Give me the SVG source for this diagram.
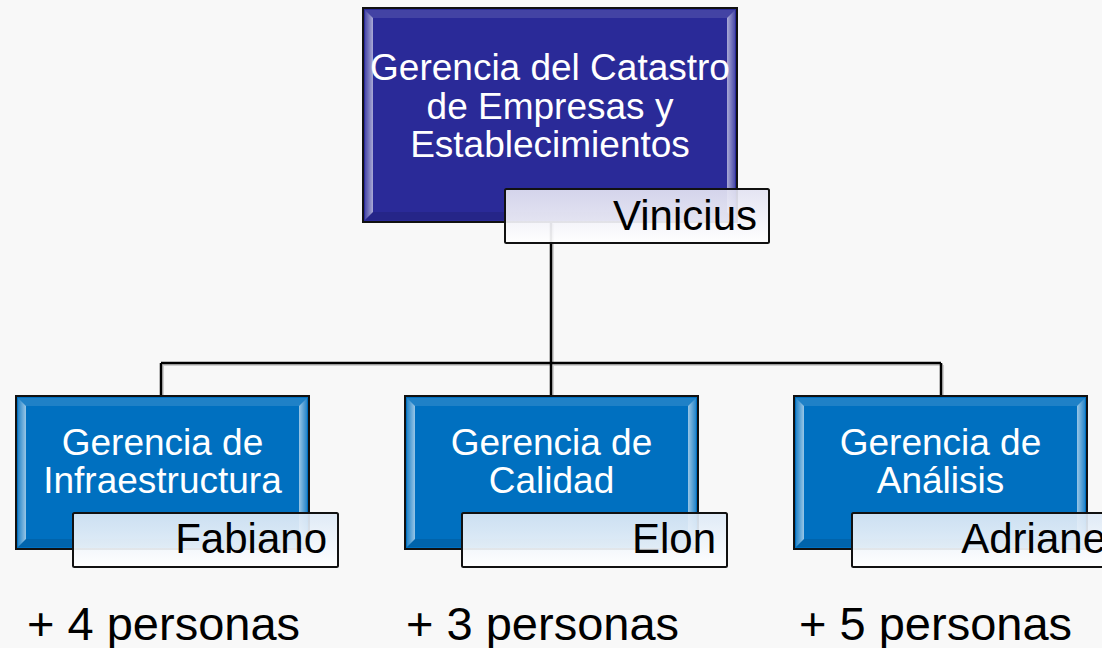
<svg xmlns="http://www.w3.org/2000/svg" width="1102" height="648" viewBox="0 0 1102 648">
<defs>
<linearGradient id="nameGradTop" x1="0" y1="0" x2="0" y2="1">
<stop offset="0" stop-color="#e2e2f2"/>
<stop offset="1" stop-color="#ffffff"/>
</linearGradient>
<linearGradient id="nameGrad" x1="0" y1="0" x2="0" y2="1">
<stop offset="0" stop-color="#dde9f6"/>
<stop offset="1" stop-color="#ffffff"/>
</linearGradient>
<linearGradient id="bevL" x1="0" y1="0" x2="1" y2="0">
<stop offset="0" stop-color="#ffffff" stop-opacity="0.15"/>
<stop offset="1" stop-color="#ffffff" stop-opacity="0.6"/>
</linearGradient>
<linearGradient id="bevR" x1="0" y1="0" x2="1" y2="0">
<stop offset="0" stop-color="#ffffff" stop-opacity="0.6"/>
<stop offset="1" stop-color="#ffffff" stop-opacity="0.15"/>
</linearGradient>
</defs>
<style>
.bg{fill:#f8f8f8}
.top{fill:#2a2a98;stroke:#111;stroke-width:2}
.child{fill:#0070c0;stroke:#111;stroke-width:2}
.bl{fill:url(#bevL)}
.br{fill:url(#bevR)}
.bt{fill:#ffffff;fill-opacity:0.12}
.bb{fill:#000000;fill-opacity:0.1}
.name{stroke:#111;stroke-width:2;fill-opacity:0.92}
.ttl{font-family:"Liberation Sans",Arial,sans-serif;fill:#ffffff;text-anchor:middle}
.nm{font-family:"Liberation Sans",Arial,sans-serif;font-size:42px;fill:#000;text-anchor:end}
.cnt{font-family:"Liberation Sans",Arial,sans-serif;font-size:47px;fill:#000}
.conn{fill:none;stroke:#000;stroke-width:2.5}
.shadow{fill:none;stroke:#cfcfcf;stroke-width:2}
</style>
<rect class="bg" x="0" y="0" width="1102" height="648"/>

<g id="connectors">
<path class="shadow" d="M553,224 V365 M163,365 H943 M163,365 V396 M553,365 V396 M943,365 V396"/>
<path class="conn" d="M551,222 V363 M161,363 H941 M161,363 V396 M551,363 V396 M941,363 V396"/>
</g>

<g id="node-top">
<rect class="top" x="363" y="8" width="374" height="214"/>
<polygon class="bt" points="365,10 735,10 727,18 373,18"/>
<polygon class="bl" points="365,10 373,18 373,212 365,220"/>
<polygon class="br" points="735,10 727,18 727,212 735,220"/>
<polygon class="bb" points="365,220 373,212 727,212 735,220"/>
<text class="ttl" font-size="37" x="550" y="80">Gerencia del Catastro</text>
<text class="ttl" font-size="37" x="550" y="118.5">de Empresas y</text>
<text class="ttl" font-size="37" x="550" y="157">Establecimientos</text>
</g>
<g id="name-top">
<rect class="name" x="505" y="189" width="264" height="54" rx="1.5" fill="url(#nameGradTop)"/>
<text class="nm" x="757" y="230">Vinicius</text>
</g>

<g id="node-infra">
<rect class="child" x="16" y="396" width="293" height="153"/>
<polygon class="bt" points="18,398 307,398 299,406 26,406"/>
<polygon class="bl" points="18,398 26,406 26,539 18,547"/>
<polygon class="br" points="307,398 299,406 299,539 307,547"/>
<polygon class="bb" points="18,547 26,539 299,539 307,547"/>
<text class="ttl" font-size="37" x="162.5" y="455">Gerencia de</text>
<text class="ttl" font-size="37" x="162.5" y="493">Infraestructura</text>
</g>
<g id="name-infra">
<rect class="name" x="73" y="513" width="265" height="54" rx="1.5" fill="url(#nameGrad)"/>
<text class="nm" x="327" y="553">Fabiano</text>
</g>

<g id="node-calidad">
<rect class="child" x="405" y="396" width="293" height="153"/>
<polygon class="bt" points="407,398 696,398 688,406 415,406"/>
<polygon class="bl" points="407,398 415,406 415,539 407,547"/>
<polygon class="br" points="696,398 688,406 688,539 696,547"/>
<polygon class="bb" points="407,547 415,539 688,539 696,547"/>
<text class="ttl" font-size="37" x="551.5" y="455">Gerencia de</text>
<text class="ttl" font-size="37" x="551.5" y="493">Calidad</text>
</g>
<g id="name-calidad">
<rect class="name" x="462" y="513" width="265" height="54" rx="1.5" fill="url(#nameGrad)"/>
<text class="nm" x="716" y="553">Elon</text>
</g>

<g id="node-analisis">
<rect class="child" x="794" y="396" width="293" height="153"/>
<polygon class="bt" points="796,398 1085,398 1077,406 804,406"/>
<polygon class="bl" points="796,398 804,406 804,539 796,547"/>
<polygon class="br" points="1085,398 1077,406 1077,539 1085,547"/>
<polygon class="bb" points="796,547 804,539 1077,539 1085,547"/>
<text class="ttl" font-size="37" x="940.5" y="455">Gerencia de</text>
<text class="ttl" font-size="37" x="940.5" y="493">Análisis</text>
</g>
<g id="name-analisis">
<rect class="name" x="852" y="513" width="265" height="54" rx="1.5" fill="url(#nameGrad)"/>
<text class="nm" x="1106" y="553">Adriane</text>
</g>

<g id="counts">
<text class="cnt" x="27" y="640">+ 4 personas</text>
<text class="cnt" x="406" y="640">+ 3 personas</text>
<text class="cnt" x="799" y="640">+ 5 personas</text>
</g>
</svg>
